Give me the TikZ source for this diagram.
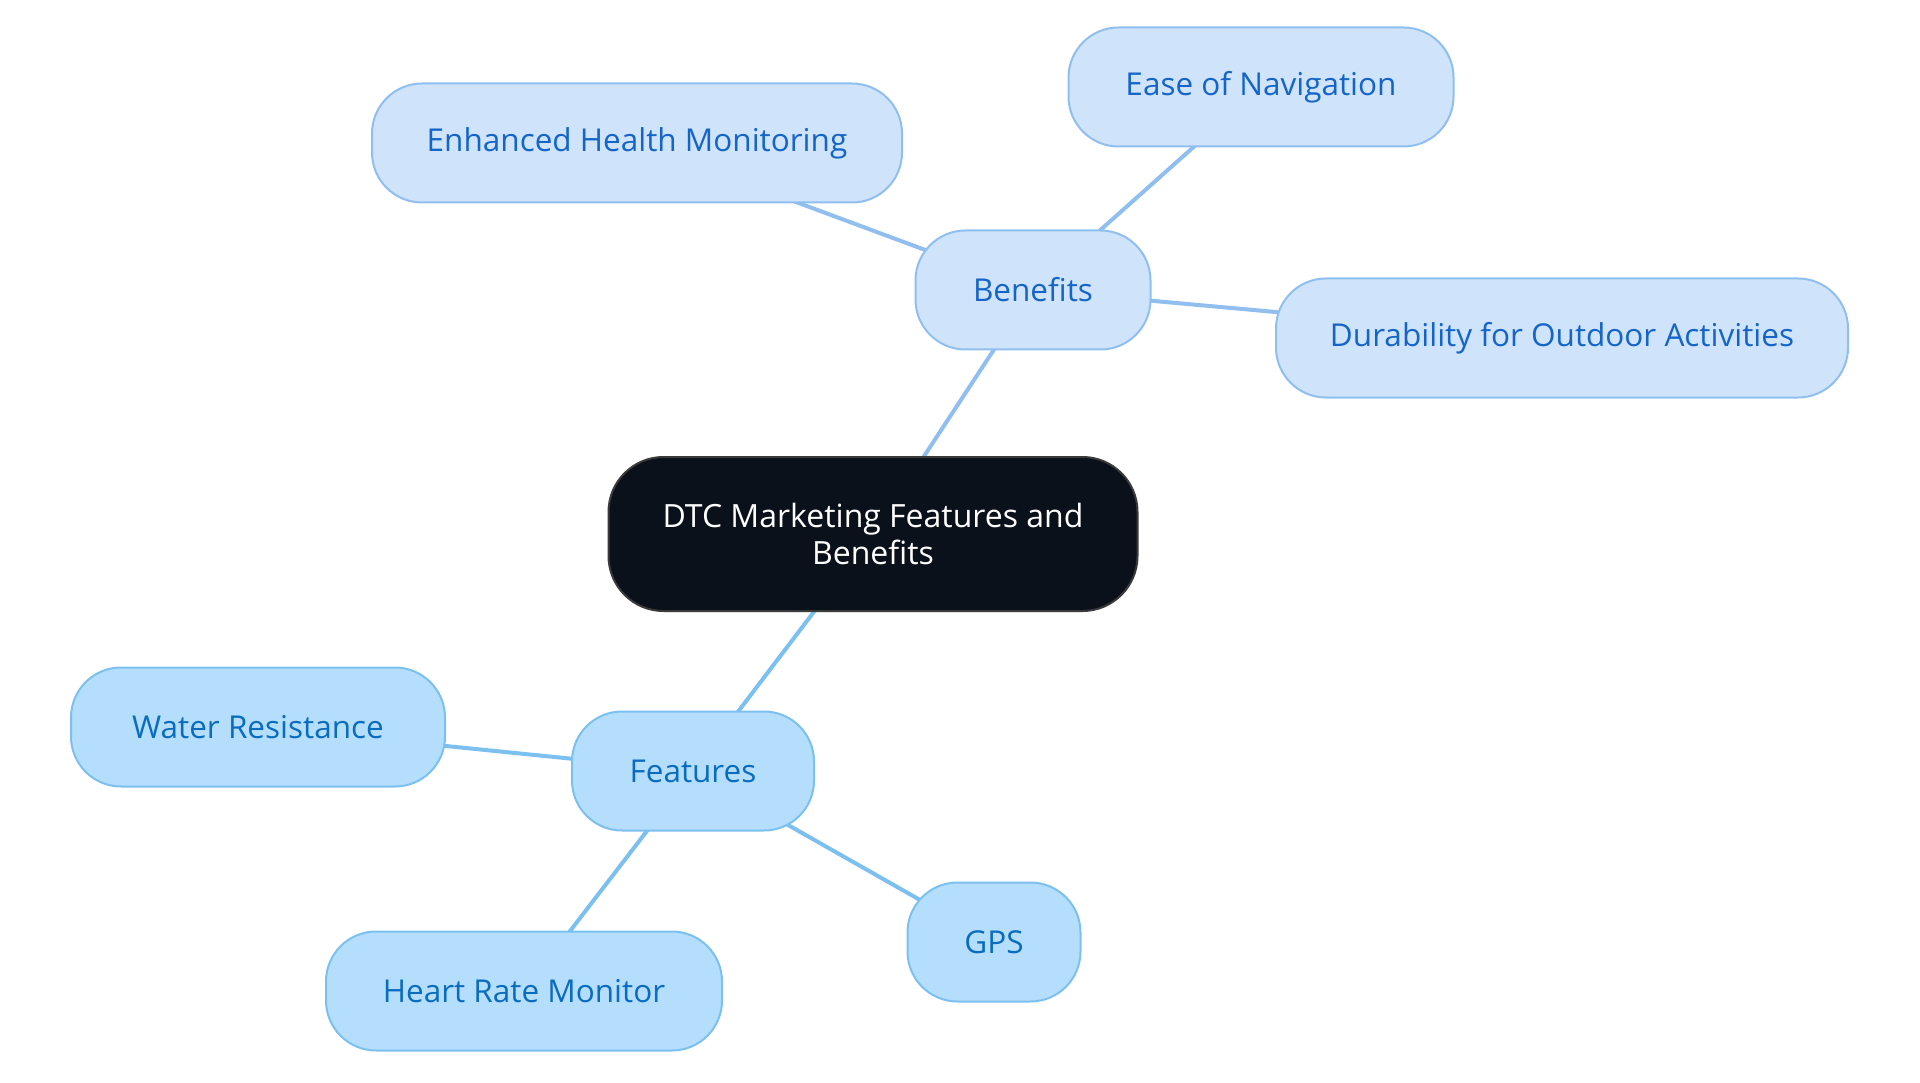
\documentclass[tikz,border=0pt]{standalone}
\usepackage{fontspec}
\setmainfont{Open Sans}
\usetikzlibrary{backgrounds}
\definecolor{bfill}{HTML}{CFE3FA}
\definecolor{bline}{HTML}{90BFEF}
\definecolor{btext}{HTML}{1565C8}
\definecolor{ffill}{HTML}{B5DEFC}
\definecolor{fline}{HTML}{7CC0F0}
\definecolor{ftext}{HTML}{0A6CBE}
\definecolor{cfill}{HTML}{0B111B}
\definecolor{cline}{HTML}{3A3A3A}
\tikzset{
  base/.style={draw, line width=2pt, rounded corners=50pt, minimum height=119pt, inner sep=0pt, font=\fontsize{31.5}{37}\selectfont},
  benefit/.style={base, fill=bfill, draw=bline, text=btext},
  feature/.style={base, fill=ffill, draw=fline, text=ftext},
  central/.style={base, fill=cfill, draw=cline, text=white, rounded corners=55pt, minimum height=154pt, align=center, font=\fontsize{32}{37}\selectfont},
  blink/.style={draw=bline, line width=4pt},
  flink/.style={draw=fline, line width=4pt},
}
\begin{document}
\begin{tikzpicture}[x=1pt,y=-1pt]
\useasboundingbox (0,0) rectangle (1920,1083);
\node[central, minimum width=529pt] (c) at (873,534) {DTC Marketing Features and\\Benefits};
\node[benefit, minimum width=235pt] (b) at (1033,290) {Benefits};
\node[benefit, minimum width=530pt] (b1) at (637,143) {Enhanced Health Monitoring};
\node[benefit, minimum width=385pt] (b2) at (1261,87) {Ease of Navigation};
\node[benefit, minimum width=572pt] (b3) at (1562,338) {Durability for Outdoor Activities};
\node[feature, minimum width=242pt] (f) at (693,771) {Features};
\node[feature, minimum width=374pt] (f1) at (258,727) {Water Resistance};
\node[feature, minimum width=396pt] (f2) at (524,991) {Heart Rate Monitor};
\node[feature, minimum width=173pt] (f3) at (994,942) {GPS};
\begin{pgfonlayer}{background}
\draw[blink] (c.center) -- (b.center);
\draw[blink] (b.center) -- (b1.center);
\draw[blink] (b.center) -- (b2.center);
\draw[blink] (b.center) -- (b3.center);
\draw[flink] (c.center) -- (f.center);
\draw[flink] (f.center) -- (f1.center);
\draw[flink] (f.center) -- (f2.center);
\draw[flink] (f.center) -- (f3.center);
\end{pgfonlayer}
\end{tikzpicture}
\end{document}
